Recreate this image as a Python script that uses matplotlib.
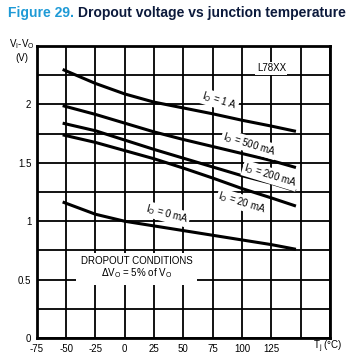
import matplotlib
matplotlib.use("Agg")
import matplotlib.pyplot as plt
import numpy as np

plt.rcParams['font.family'] = ['Liberation Sans', 'DejaVu Sans']

# junction temperature (deg C) and dropout voltage (V)
tj = [-53, -25, 0, 25, 50, 75, 100, 125, 146]
v_1a = [2.30, 2.18, 2.09, 2.02, 1.97, 1.92, 1.865, 1.815, 1.77]
v_500ma = [1.99, 1.915, 1.84, 1.765, 1.70, 1.64, 1.58, 1.52, 1.46]
v_200ma = [1.84, 1.775, 1.695, 1.615, 1.54, 1.465, 1.39, 1.325, 1.26]
v_20ma = [1.74, 1.675, 1.605, 1.535, 1.455, 1.37, 1.28, 1.20, 1.13]
v_0ma = [1.165, 1.06, 1.00, 0.96, 0.92, 0.88, 0.84, 0.80, 0.76]

curves = [v_1a, v_500ma, v_200ma, v_20ma, v_0ma]
curve_labels = ["I$_\\mathregular{O}$ = 1 A", "I$_\\mathregular{O}$ = 500 mA",
                "I$_\\mathregular{O}$ = 200 mA", "I$_\\mathregular{O}$ = 20 mA",
                "I$_\\mathregular{O}$ = 0 mA"]
label_pos = [(81, 2.03), (106, 1.66), (124, 1.39), (100, 1.16), (36, 1.06)]
label_rot = [-17, -17, -17, -17, -15]

xticks = [-75, -50, -25, 0, 25, 50, 75, 100, 125, 150, 175]
xticklabels = ["-75", "-50", "-25", "0", "25", "50", "75", "100", "125", "", ""]
yticks = [0, 0.25, 0.5, 0.75, 1, 1.25, 1.5, 1.75, 2, 2.25, 2.5]
yticklabels = ["0", "", "0.5", "", "1", "", "1.5", "", "2", "", ""]

fig = plt.figure(figsize=(3.51, 3.60), dpi=100)
ax = fig.add_axes([0.105, 0.061, 0.835, 0.811])

for v in curves:
    ax.plot(tj, v, color='black', lw=2.2, solid_capstyle='butt', zorder=3)

for lab, (x, y), r in zip(curve_labels, label_pos, label_rot):
    ax.text(x, y, lab, fontsize=7, rotation=r, ha='center', va='center',
            rotation_mode='anchor', zorder=4,
            bbox=dict(facecolor='white', edgecolor='none', pad=0.8))

ax.text(125, 2.31, "L78XX", fontsize=7, ha='center', va='center', zorder=4,
        bbox=dict(facecolor='white', edgecolor='none', pad=1))
ax.text(10, 0.60, "DROPOUT CONDITIONS\n$\\Delta$V$_\\mathregular{O}$ = 5% of V$_\\mathregular{O}$",
        fontsize=7, ha='center', va='center', linespacing=1.1, zorder=4,
        bbox=dict(facecolor='white', edgecolor='none', pad=3))

ax.set_xlim(-75, 175)
ax.set_ylim(0, 2.5)
ax.set_xticks(xticks)
ax.set_xticklabels(xticklabels)
ax.set_yticks(yticks)
ax.set_yticklabels(yticklabels)
ax.tick_params(length=0, labelsize=7, pad=4)
ax.grid(True, color='black', lw=1.3)
ax.set_axisbelow(True)
for s in ax.spines.values():
    s.set_linewidth(2)

fig.text(0.062, 0.86, "V$_\\mathregular{I}$-V$_\\mathregular{O}$\n(V)", fontsize=7,
         ha='center', va='center', linespacing=1.2)
fig.text(0.935, 0.036, "T$_\\mathregular{j}$ (°C)", fontsize=7, ha='center', va='center')

fig.text(0.022, 0.965, "Figure 29.", fontsize=10, fontweight='bold', color='#1e9ad6',
         ha='left', va='center')
fig.text(0.222, 0.965, "Dropout voltage vs junction temperature", fontsize=10,
         fontweight='bold', color='#0c1a3c', ha='left', va='center')

fig.savefig("out.png", dpi=100)
